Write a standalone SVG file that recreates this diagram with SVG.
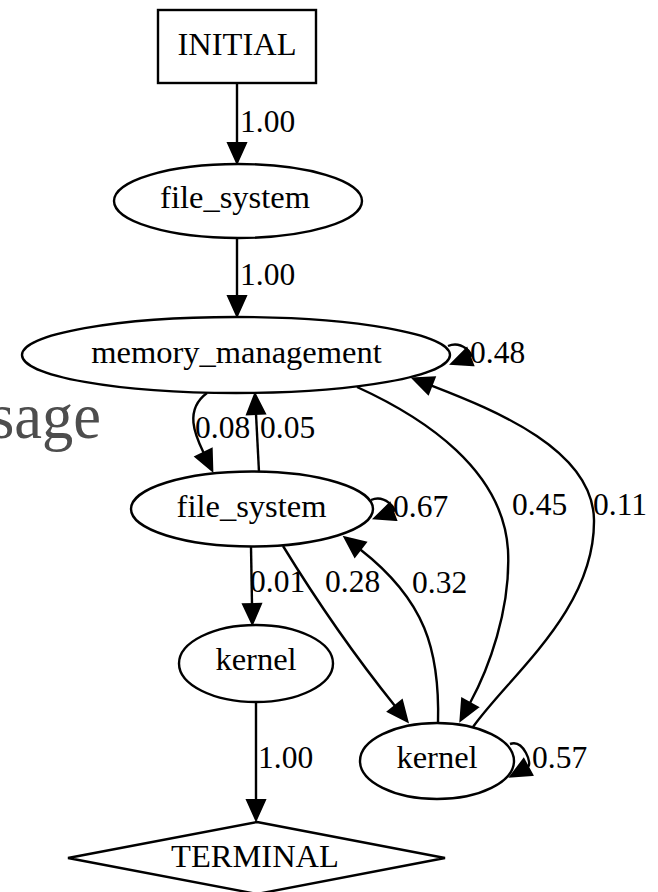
<svg xmlns="http://www.w3.org/2000/svg" width="658" height="892" viewBox="0 0 658 892">
<style>
.n{fill:#fff;stroke:#000;stroke-width:2.4}
.t{font-family:"Liberation Serif","Times New Roman",serif;font-size:31.5px;fill:#000}
.c{text-anchor:middle;font-size:32.5px}
.e{fill:none;stroke:#000;stroke-width:2.4}
.bg{font-family:"Liberation Serif","Times New Roman",serif;font-size:66px;fill:#4d4d4d}
</style>
<defs>
<marker id="ah" markerUnits="userSpaceOnUse" markerWidth="26" markerHeight="22" refX="0" refY="9" orient="auto" overflow="visible">
<path d="M0,0 L20,9 L0,18 z" fill="#000" stroke="#000" stroke-width="2" stroke-linejoin="miter"/>
</marker>
</defs>
<rect width="658" height="892" fill="#fff"/>
<text class="bg" x="-10" y="438" textLength="111" lengthAdjust="spacingAndGlyphs">sage</text>
<g id="connectors">
<path class="e" marker-end="url(#ah)" d="M237,83 L237,143"/>
<path class="e" marker-end="url(#ah)" d="M237,238 L237,296"/>
<path class="e" marker-end="url(#ah)" d="M207,393 C184,410 195,435 203.6,452.7"/>
<path class="e" marker-end="url(#ah)" d="M259,472 L256,414"/>
<path class="e" marker-end="url(#ah)" d="M448,346 C462,340 474.7,355 470,356.8"/>
<path class="e" marker-end="url(#ah)" d="M371,500 C385,494 397.7,509.75 393,511.5"/>
<path class="e" marker-end="url(#ah)" d="M510,744 C524,739 532.4,764.6 528,767"/>
<path class="e" marker-end="url(#ah)" d="M357,387 C425,418 503,470 508,550 C511,610 488,670 470,703"/>
<path class="e" marker-end="url(#ah)" d="M473,727 C510,675 595,610 594,520 C593,450 496.6,410.8 431.5,385.6"/>
<path class="e" marker-end="url(#ah)" d="M283,546 C310,590 350,650 395,706"/>
<path class="e" marker-end="url(#ah)" d="M438,723 C440,650 425,600 360.3,549.5"/>
<path class="e" marker-end="url(#ah)" d="M251,547 L252,604"/>
<path class="e" marker-end="url(#ah)" d="M256,702 L256,800"/>
<text class="t" x="240" y="132">1.00</text>
<text class="t" x="240" y="285">1.00</text>
<text class="t" x="470" y="363">0.48</text>
<text class="t" x="195" y="438">0.08</text>
<text class="t" x="260" y="438">0.05</text>
<text class="t" x="393" y="517">0.67</text>
<text class="t" x="512" y="515">0.45</text>
<text class="t" x="593" y="515">0.11</text>
<text class="t" x="250" y="592">0.01</text>
<text class="t" x="325" y="592">0.28</text>
<text class="t" x="412" y="593">0.32</text>
<text class="t" x="258" y="768">1.00</text>
<text class="t" x="532" y="768">0.57</text>
</g>
<g id="initial">
<rect class="n" x="158" y="10" width="158" height="73"/>
<text class="t c" x="237" y="55">INITIAL</text>
</g>
<g id="file_system_1">
<ellipse class="n" cx="238" cy="201" rx="124" ry="37"/>
<text class="t c" x="235" y="208">file_system</text>
</g>
<g id="memory_management">
<ellipse class="n" cx="236" cy="355" rx="214" ry="38"/>
<text class="t c" x="236.5" y="363">memory_management</text>
</g>
<g id="file_system_2">
<ellipse class="n" cx="252" cy="509" rx="121" ry="37.5"/>
<text class="t c" x="251.5" y="517">file_system</text>
</g>
<g id="kernel_1">
<ellipse class="n" cx="256" cy="663.5" rx="77" ry="38.5"/>
<text class="t c" x="256" y="670">kernel</text>
</g>
<g id="kernel_2">
<ellipse class="n" cx="437" cy="761" rx="77" ry="38"/>
<text class="t c" x="437" y="768">kernel</text>
</g>
<g id="terminal">
<polygon class="n" points="257,822 445,858 257,894 68,858"/>
<text class="t c" x="255" y="867">TERMINAL</text>
</g>
</svg>
